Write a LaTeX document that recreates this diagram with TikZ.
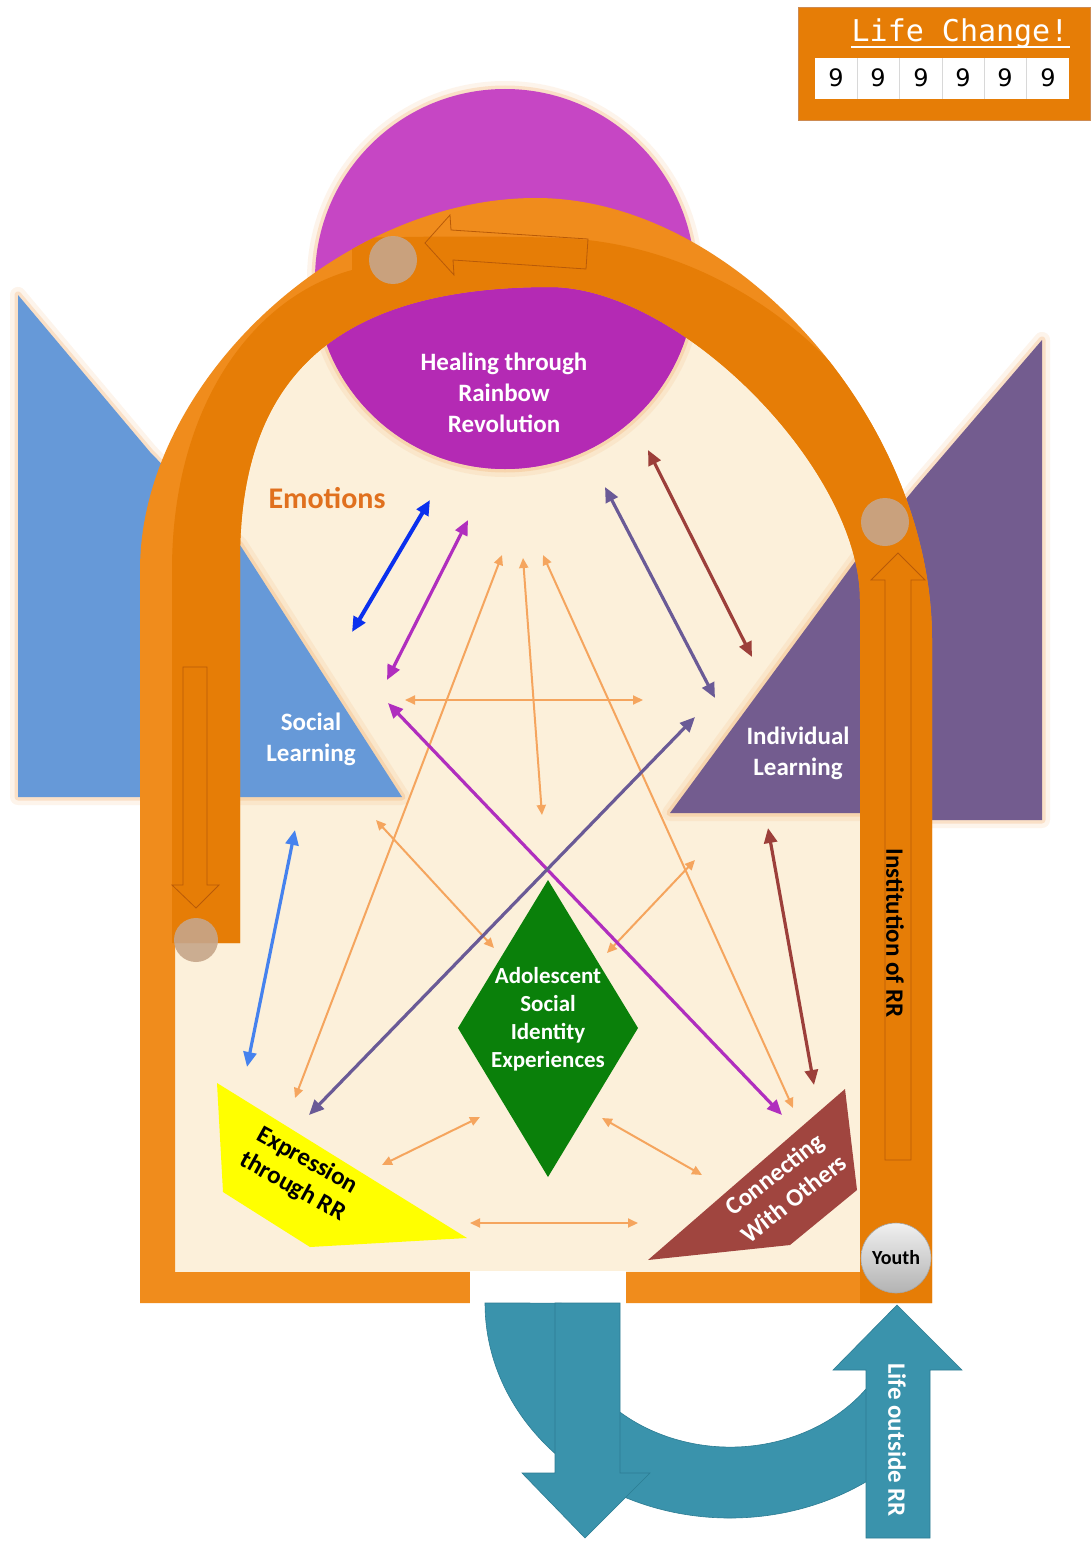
\documentclass[tikz,border=0pt]{standalone}
\usepackage{fontspec}
\setmainfont{Carlito}
\newfontfamily\monof{DejaVu Sans Mono}
\newfontfamily\digf{DejaVu Sans}
\usetikzlibrary{arrows.meta}
\definecolor{cream}{HTML}{FCF0DA}
\definecolor{orL}{HTML}{F08C1C}
\definecolor{orD}{HTML}{E67D06}
\definecolor{orLine}{HTML}{B85A08}
\definecolor{blueT}{HTML}{6699D8}
\definecolor{purT}{HTML}{735C8F}
\definecolor{magL}{HTML}{C646C4}
\definecolor{magD}{HTML}{B42AB4}
\definecolor{greenD}{HTML}{0A800A}
\definecolor{yel}{HTML}{FFFF00}
\definecolor{brownS}{HTML}{A0453F}
\definecolor{tealA}{HTML}{3A93AC}
\definecolor{tealE}{HTML}{2C7C93}
\definecolor{haloc}{HTML}{F2A55C}
\definecolor{arO}{HTML}{F5A55E}
\definecolor{arBlue}{HTML}{0A30EE}
\definecolor{arMag}{HTML}{B02EBE}
\definecolor{arPur}{HTML}{6A5A96}
\definecolor{arBrown}{HTML}{9C3F3A}
\definecolor{arLB}{HTML}{4582EE}
\definecolor{emo}{HTML}{E0701E}
\definecolor{grayC}{HTML}{C6A68A}
\definecolor{cellline}{HTML}{D8D8D8}
\tikzset{
  halo/.style={preaction={draw=haloc, line width=16pt, draw opacity=0.12, line join=round},
               preaction={draw=haloc, line width=7pt, draw opacity=0.25, line join=round}},
  outl/.style={draw=orLine, line width=0.8pt, line join=miter},
  dot/.style={fill=grayC, fill opacity=0.9},
  lbl/.style={font=\fontsize{25}{31}\selectfont\bfseries, text=white, align=center, inner sep=0pt},
  oarr/.style={draw=arO, line width=2pt, {Triangle[length=10pt,width=9pt]}-{Triangle[length=10pt,width=9pt]}},
  karr/.style={draw=#1, line width=3.2pt, {Triangle[length=15pt,width=13pt]}-{Triangle[length=15pt,width=13pt]}},
  tealshape/.style={fill=tealA, draw=tealE, line width=0.6pt},
}
\begin{document}
\begin{tikzpicture}[x=1pt,y=-1pt]
\useasboundingbox (0,0) rectangle (1091,1541);
\fill[white] (0,0) rectangle (1091,1541);

% cream interior
\fill[cream] (175,1272) -- (175,943) -- (240,943) -- (240,560) .. controls (240,374) and (339,287) .. (550,287) .. controls (680,287) and (860,469) .. (860,600) -- (860,1272) -- cycle;

% learning triangles
\fill[blueT, halo] (18,295) -- (150,452) -- (240,545) -- (402,797) -- (18,797) -- cycle;
\fill[purT, halo] (670,813) -- (860,555) -- (915,488) -- (1042,340) -- (1042,820) -- (896,820) -- (896,813) -- cycle;

% healing circle
\fill[magL, halo] (505,279) circle[radius=190];
\begin{scope}
\clip (240,943) -- (240,560) .. controls (240,374) and (339,287) .. (550,287) .. controls (680,287) and (860,469) .. (860,600) -- (860,943) -- cycle;
\fill[magD] (505,279) circle[radius=190];
\end{scope}

% light orange frame
\fill[orL, even odd rule] (140,1303) -- (140,570) .. controls (140,384) and (338,198) .. (536,198) .. controls (734,198) and (932,419) .. (932,640) -- (932,1303) -- cycle
  (175,1272) -- (175,943) -- (240,943) -- (240,560) .. controls (240,374) and (339,287) .. (550,287) .. controls (680,287) and (860,469) .. (860,600) -- (860,1272) -- cycle;
\fill[white] (470,1271) rectangle (626,1305);

% dark orange arch band
\begin{scope}
\clip (140,1303) -- (140,570) .. controls (140,384) and (338,198) .. (536,198) .. controls (734,198) and (932,419) .. (932,640) -- (932,1303) -- cycle;
\fill[orD] (172,943) -- (172,570) .. controls (172,410) and (250,298) .. (352,270) -- (352,238) .. controls (440,236) and (500,236) .. (560,238) .. controls (760,245) and (945,420) .. (945,640) -- (945,1303) -- (860,1303) -- (860,600) .. controls (860,469) and (680,287) .. (550,287) .. controls (339,287) and (240,374) .. (240,560) -- (240,943) -- cycle;
\end{scope}

% outlined direction arrows in the band
\draw[outl] (425,243) -- (450,215) -- (451,230) -- (588,239) -- (586,269) -- (453,260) -- (454,275) -- cycle;
\draw[outl] (183,667) -- (207,667) -- (207,885) -- (219,885) -- (196,908) -- (172,885) -- (183,885) -- cycle;
\draw[outl] (885,1160) -- (911,1160) -- (911,580) -- (925,580) -- (898,553) -- (871,580) -- (885,580) -- cycle;

% markers
\fill[dot] (393,260) circle[radius=24];
\fill[dot] (885,522) circle[radius=24];
\fill[dot] (196,940) circle[radius=22];

% texts
\node[lbl] (heal) at (504,393) {Healing through\\Rainbow\\Revolution};
\node[lbl, text=emo, font=\fontsize{30}{34}\selectfont\bfseries] (emo) at (327,498) {Emotions};
\node[lbl] (soc) at (311,739) {Social\\Learning};
\node[lbl] (ind) at (798,753) {Individual\\Learning};
\node[lbl, text=black, rotate=-90] (inst) at (895,933) {Institution of RR};

% shapes
\fill[greenD] (548,880) -- (638,1028) -- (548,1177) -- (458,1028) -- cycle;
\node[lbl, font=\fontsize{23}{28}\selectfont\bfseries] (ase) at (548,1019) {Adolescent\\Social\\Identity\\Experiences};
\fill[yel] (217,1083) -- (223,1192) -- (310,1247) -- (467,1238) -- cycle;
\node[lbl, text=black, rotate=-29, font=\fontsize{25}{30}\selectfont\bfseries] (expr) at (300,1174) {Expression\\through RR};
\fill[brownS] (845,1089) -- (857,1190) -- (790,1245) -- (648,1260) -- cycle;
\node[lbl, rotate=38, font=\fontsize{25}{31}\selectfont\bfseries] (conn) at (784,1186) {Connecting\\With Others};

% youth
\shade[top color=gray!12, bottom color=gray!60, draw=gray!70, line width=0.6pt] (896,1258) circle[radius=35];
\node[lbl, text=black, font=\fontsize{20}{24}\selectfont\bfseries] (youth) at (896,1258) {Youth};

% connector end points
\coordinate (b1) at (430,500); \coordinate (b2) at (352,632);
\coordinate (m1) at (468,520); \coordinate (m2) at (387,680);
\coordinate (oa1) at (502,555); \coordinate (oa2) at (295,1098);
\coordinate (ob1) at (523,558); \coordinate (ob2) at (542,815);
\coordinate (oc1) at (543,555); \coordinate (oc2) at (793,1108);
\coordinate (oh1) at (405,700); \coordinate (oh2) at (643,700);
\coordinate (p1) at (605,487); \coordinate (p2) at (715,698);
\coordinate (r1) at (648,450); \coordinate (r2) at (752,657);
\coordinate (ml1) at (388,703); \coordinate (ml2) at (782,1115);
\coordinate (pl1) at (695,717); \coordinate (pl2) at (309,1115);
\coordinate (lb1) at (295,830); \coordinate (lb2) at (247,1067);
\coordinate (od1) at (376,820); \coordinate (od2) at (494,948);
\coordinate (oe1) at (695,860); \coordinate (oe2) at (607,953);
\coordinate (rl1) at (768,828); \coordinate (rl2) at (814,1085);
\coordinate (of1) at (382,1165); \coordinate (of2) at (480,1117);
\coordinate (og1) at (602,1118); \coordinate (og2) at (702,1175);
\coordinate (ok1) at (470,1223); \coordinate (ok2) at (638,1223);

\draw[oarr] (oa1) -- (oa2);
\draw[oarr] (ob1) -- (ob2);
\draw[oarr] (oc1) -- (oc2);
\draw[oarr] (oh1) -- (oh2);
\draw[oarr] (od1) -- (od2);
\draw[oarr] (oe1) -- (oe2);
\draw[oarr] (of1) -- (of2);
\draw[oarr] (og1) -- (og2);
\draw[oarr] (ok1) -- (ok2);
\draw[karr=arBlue, line width=4pt] (b1) -- (b2);
\draw[karr=arMag] (m1) -- (m2);
\draw[karr=arPur] (p1) -- (p2);
\draw[karr=arBrown] (r1) -- (r2);
\draw[karr=arMag] (ml1) -- (ml2);
\draw[karr=arPur] (pl1) -- (pl2);
\draw[karr=arLB] (lb1) -- (lb2);
\draw[karr=arBrown] (rl1) -- (rl2);

% teal arrows outside
\fill[tealshape] (485,1303) arc[start angle=180, end angle=50, x radius=245, y radius=215] -- (887,1357) arc[start angle=22, end angle=180, x radius=169, y radius=144] -- cycle;
\fill[tealshape] (555,1303) -- (620,1303) -- (620,1473) -- (650,1473) -- (585,1538) -- (522,1473) -- (555,1473) -- cycle;
\fill[tealshape] (866,1538) -- (866,1370) -- (833,1370) -- (897,1305) -- (962,1370) -- (930,1370) -- (930,1538) -- cycle;
\node[lbl, rotate=-90] (life) at (897,1440) {Life outside RR};

% life change counter
\fill[orD, draw=orLine!70, line width=0.8pt] (798,7) rectangle (1090,120);
\node[inner sep=0pt, text=white, font=\monof\fontsize{30}{30}\selectfont] (lc) at (960,33) {Life Change!};
\draw[white, line width=2pt] (851,47) -- (1070,47);
\fill[white] (815,58) rectangle (1069,99);
\foreach \xx in {857.3,899.7,942,984.3,1026.7} \draw[cellline, line width=0.8pt] (\xx,58) -- (\xx,99);
\foreach \i/\xx in {1/836,2/878,3/921,4/963,5/1005,6/1048}
  \node[inner sep=0pt, font=\digf\fontsize{24}{24}\selectfont] (d\i) at (\xx,78) {9};
\end{tikzpicture}
\end{document}
